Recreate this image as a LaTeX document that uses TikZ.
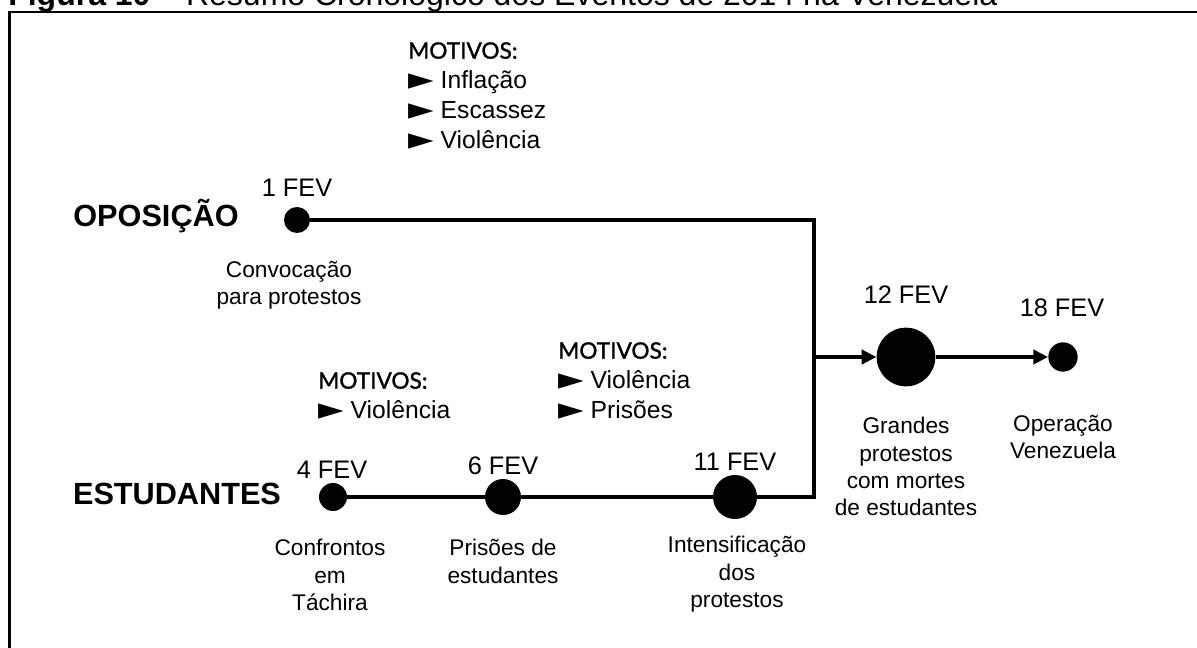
\documentclass[tikz,border=0pt]{standalone}
\usepackage{graphicx}
\usepackage{fontspec}
\setmainfont{Liberation Sans}
\newfontfamily\motivosfont{Lato}[FakeBold=1.3]
\newfontfamily\pointerfont{DejaVu Sans}
\usetikzlibrary{arrows.meta,positioning}

% Pointer in front of each motive
\newcommand{\mpointer}{\raisebox{-0.04em}{\scalebox{1.35}[1.25]{\pointerfont ►}}}
\newcommand{\mhead}{{\motivosfont\fontsize{17}{22.5}\selectfont MOTIVOS:}}

\begin{document}
\begin{tikzpicture}[x=0.75pt,y=-0.75pt]

\tikzset{
  frameline/.style={
    line width=1.9pt
  },
  tline/.style={
    line width=3.6pt
  },
  arr/.style={
    -{Triangle[length=11pt,width=10.5pt]}
  },
  evdot/.style={
    circle,
    fill=black,
    inner sep=0pt,
    minimum size=#1
  },
  datelabel/.style={
    font=\fontsize{19}{22}\selectfont
  },
  desclabel/.style={
    anchor=north,
    align=center,
    inner sep=0pt,
    font=\fontsize{17}{20.5}\selectfont
  },
  actorlabel/.style={
    anchor=base,
    inner sep=0pt,
    font=\fontsize{23}{27}\selectfont\bfseries
  },
  motivosbox/.style={
    anchor=north west,
    align=left,
    inner sep=0pt,
    font=\fontsize{18.5}{22.5}\selectfont
  }
}

% Page size of the reference
\useasboundingbox (0,0) rectangle (1197,648);
\clip (0,0) rectangle (1197,648);

%%%%%%%%%%%%%%%%%%%%%%%%%%%%%%%%%%%%%%%%%%%%%%%%%%%%%%%%%%%%
%% Caption and frame (both cut by the page)
%%%%%%%%%%%%%%%%%%%%%%%%%%%%%%%%%%%%%%%%%%%%%%%%%%%%%%%%%%%%
\node[
  anchor=base west,
  inner sep=0pt,
  font=\fontsize{24}{28}\selectfont
] (caption) at (8,6)
  {\textbf{Figura 10} -- Resumo Cronológico dos Eventos de 2014 na Venezuela};

\draw[frameline] (9.5,12) rectangle (1220,670);

%%%%%%%%%%%%%%%%%%%%%%%%%%%%%%%%%%%%%%%%%%%%%%%%%%%%%%%%%%%%
%% Oposicao
%%%%%%%%%%%%%%%%%%%%%%%%%%%%%%%%%%%%%%%%%%%%%%%%%%%%%%%%%%%%
\node[actorlabel] (oposicao) at (156,227) {OPOSIÇÃO};

\node[evdot=19.5pt] (d1) at (297,220) {};
\node[datelabel] (f1) at (297,188) {1 FEV};
\node[desclabel] (t1) at (289,261)
  {Convocação\\para protestos};

\node[motivosbox] (mot1) at (408,42)
  {\mhead\\\mpointer{} Inflação\\\mpointer{} Escassez\\\mpointer{} Violência};

%%%%%%%%%%%%%%%%%%%%%%%%%%%%%%%%%%%%%%%%%%%%%%%%%%%%%%%%%%%%
%% Estudantes
%%%%%%%%%%%%%%%%%%%%%%%%%%%%%%%%%%%%%%%%%%%%%%%%%%%%%%%%%%%%
\node[actorlabel] (estudantes) at (177,505) {ESTUDANTES};

\node[evdot=21pt] (d4) at (333,497) {};
\node[datelabel] (f4) at (332,470) {4 FEV};
\node[desclabel] (t4) at (330,539)
  {Confrontos\\em\\Táchira};

\node[evdot=27pt] (d6) at (503,497) {};
\node[datelabel] (f6) at (503,466) {6 FEV};
\node[desclabel] (t6) at (503,539)
  {Prisões de\\estudantes};

\node[evdot=33pt] (d11) at (735,497) {};
\node[datelabel] (f11) at (735,462) {11 FEV};
\node[desclabel] (t11) at (737,536)
  {Intensificação\\dos\\protestos};

\node[motivosbox] (mot2) at (318,372)
  {\mhead\\\mpointer{} Violência};
\node[motivosbox] (mot3) at (558,342)
  {\mhead\\\mpointer{} Violência\\\mpointer{} Prisões};

%%%%%%%%%%%%%%%%%%%%%%%%%%%%%%%%%%%%%%%%%%%%%%%%%%%%%%%%%%%%
%% Junction and common events
%%%%%%%%%%%%%%%%%%%%%%%%%%%%%%%%%%%%%%%%%%%%%%%%%%%%%%%%%%%%
\coordinate (jbot) at (814,497);
\coordinate (jmid) at (814,357);

\node[evdot=44pt] (d12) at (906,357) {};
\node[datelabel] (f12) at (906,295) {12 FEV};
\node[desclabel] (t12) at (906,417)
  {Grandes\\protestos\\com mortes\\de estudantes};

\node[evdot=22pt] (d18) at (1063,357) {};
\node[datelabel] (f18) at (1062,308) {18 FEV};
\node[desclabel] (t18) at (1063,415)
  {Operação\\Venezuela};

% Timelines
\draw[tline] (d1) -| (jbot) -- (d11);
\draw[tline] (d4) -- (d6) -- (d11);
\draw[tline,arr] (jmid) -- (d12);
\draw[tline,arr] (d12) -- (d18);

\end{tikzpicture}
\end{document}
